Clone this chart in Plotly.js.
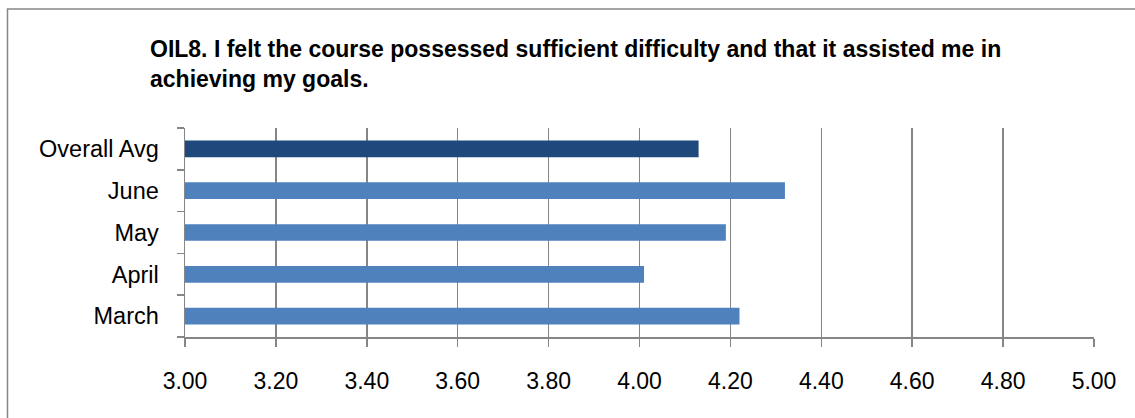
<!DOCTYPE html>
<html>
<head>
<meta charset="utf-8">
<script src="https://cdn.plot.ly/plotly-3.0.1.min.js"></script>
<style>
  html, body { margin: 0; padding: 0; background: #ffffff; }
  #chart { width: 1135px; height: 418px; }
</style>
</head>
<body>
<div id="chart"></div>
<script>
// Survey item and monthly average scores (bottom to top)
const chartTitle = "OIL8. I felt the course possessed sufficient difficulty and that it assisted me in<br>achieving my goals.";
const categories = ["March", "April", "May", "June", "Overall Avg"];
const scores = [4.22, 4.01, 4.19, 4.32, 4.13];
const barColors = ["#4F81BD", "#4F81BD", "#4F81BD", "#4F81BD", "#1F497D"];
const xTickValues = [3.0, 3.2, 3.4, 3.6, 3.8, 4.0, 4.2, 4.4, 4.6, 4.8, 5.0];
const xTickLabels = ["3.00", "3.20", "3.40", "3.60", "3.80", "4.00", "4.20", "4.40", "4.60", "4.80", "5.00"];

const axisGray = "#868686";
const fontFamily = "Liberation Sans, Arial, sans-serif";

const trace = {
  type: "bar",
  orientation: "h",
  y: categories,
  x: scores,
  marker: { color: barColors, line: { width: 0 } },
  hoverinfo: "y+x"
};

const layout = {
  width: 1135,
  height: 418,
  margin: { l: 185, r: 41, t: 128, b: 81 },
  paper_bgcolor: "#ffffff",
  plot_bgcolor: "#ffffff",
  showlegend: false,
  bargap: 0.6,
  title: {
    text: chartTitle,
    font: { family: fontFamily, size: 23, color: "#000000", weight: "bold" },
    x: 150 / 1135,
    xanchor: "left",
    xref: "container",
    y: 1 - 57 / 418,
    yanchor: "middle",
    yref: "container",
    align: "left"
  },
  xaxis: {
    range: [3, 5],
    tickvals: xTickValues,
    ticktext: xTickLabels,
    tickfont: { family: fontFamily, size: 23, color: "#000000" },
    showgrid: true,
    gridcolor: axisGray,
    gridwidth: 1.5,
    zeroline: false,
    showline: true,
    linecolor: axisGray,
    linewidth: 1.5,
    ticks: "outside",
    ticklen: 8,
    tickwidth: 1.5,
    tickcolor: axisGray,
    ticklabelstandoff: 15,
    fixedrange: true
  },
  yaxis: {
    type: "category",
    categoryorder: "array",
    categoryarray: categories,
    tickfont: { family: fontFamily, size: 23.5, color: "#000000" },
    showgrid: false,
    zeroline: false,
    showline: true,
    linecolor: axisGray,
    linewidth: 1.5,
    ticks: "outside",
    tickson: "boundaries",
    ticklen: 7,
    tickwidth: 1.5,
    tickcolor: axisGray,
    ticklabelstandoff: 20,
    fixedrange: true
  },
  shapes: [
    {
      type: "rect",
      xref: "paper",
      yref: "paper",
      x0: (7.5 - 185) / 909,
      x1: 1.2,
      y0: -0.6,
      y1: 1 + (128 - 9) / 209,
      line: { color: axisGray, width: 1.5 },
      fillcolor: "rgba(0,0,0,0)",
      layer: "below"
    }
  ]
};

Plotly.newPlot("chart", [trace], layout, { displayModeBar: false, staticPlot: true });
</script>
</body>
</html>
